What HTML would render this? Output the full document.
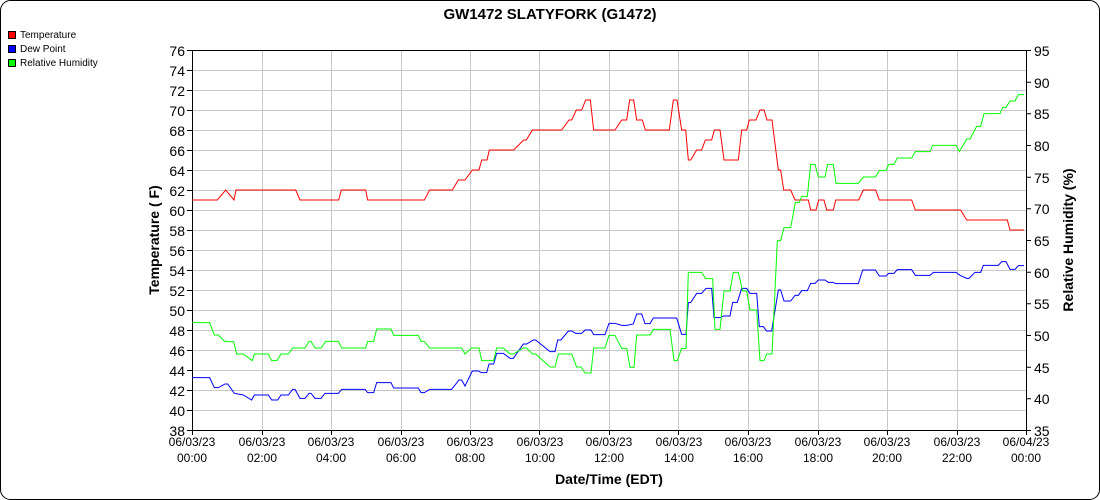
<!DOCTYPE html>
<html><head><style>
html,body{margin:0;padding:0;background:#fff;}
svg{display:block;font-family:"Liberation Sans",Arial,sans-serif;}
</style></head><body>
<svg width="1100" height="500" xmlns="http://www.w3.org/2000/svg">
<rect x="0.5" y="0.5" width="1099" height="499" rx="10" fill="#fff" stroke="#000"/>
<text x="550" y="19" text-anchor="middle" font-size="15" font-weight="bold">GW1472 SLATYFORK (G1472)</text>
<rect x="8.5" y="31.5" width="7" height="7" fill="#f00" stroke="#000"/>
<text x="20" y="38" font-size="10">Temperature</text>
<rect x="8.5" y="45.5" width="7" height="7" fill="#00f" stroke="#000"/>
<text x="20" y="52" font-size="10">Dew Point</text>
<rect x="8.5" y="59.5" width="7" height="7" fill="#0f0" stroke="#000"/>
<text x="20" y="66" font-size="10">Relative Humidity</text>
<g id="grid" stroke="#c8c8c8" stroke-width="1"></g>
<g stroke="#c8c8c8">
<path d="M192 70.5H1026M192 90.5H1026M192 110.5H1026M192 130.5H1026M192 150.5H1026M192 170.5H1026M192 190.5H1026M192 210.5H1026M192 230.5H1026M192 250.5H1026M192 270.5H1026M192 290.5H1026M192 310.5H1026M192 330.5H1026M192 350.5H1026M192 370.5H1026M192 390.5H1026M192 410.5H1026"/>
<path d="M262.5 50V430M331.5 50V430M401.5 50V430M470.5 50V430M539.5 50V430M609.5 50V430M678.5 50V430M748.5 50V430M818.5 50V430M887.5 50V430M957.5 50V430"/>
</g>
<g stroke="#000" fill="none">
<path d="M192.5 50V430.5H1026.5V50M192.5 50.5H1026.5"/>
<path d="M187 50.5h5M187 70.5h5M187 90.5h5M187 110.5h5M187 130.5h5M187 150.5h5M187 170.5h5M187 190.5h5M187 210.5h5M187 230.5h5M187 250.5h5M187 270.5h5M187 290.5h5M187 310.5h5M187 330.5h5M187 350.5h5M187 370.5h5M187 390.5h5M187 410.5h5M187 430.5h5"/>
<path d="M1026 50.5h5M1026 82.2h5M1026 113.8h5M1026 145.5h5M1026 177.2h5M1026 208.8h5M1026 240.5h5M1026 272.2h5M1026 303.8h5M1026 335.5h5M1026 367.2h5M1026 398.8h5M1026 430.5h5"/>
<path d="M192.5 430v5M262.5 430v5M331.5 430v5M401.5 430v5M470.5 430v5M539.5 430v5M609.5 430v5M678.5 430v5M748.5 430v5M818.5 430v5M887.5 430v5M957.5 430v5M1026.5 430v5"/>
</g>
<g font-size="14" text-anchor="end">
<text x="185" y="56">76</text><text x="185" y="76">74</text><text x="185" y="96">72</text><text x="185" y="116">70</text><text x="185" y="136">68</text><text x="185" y="156">66</text><text x="185" y="176">64</text><text x="185" y="196">62</text><text x="185" y="216">60</text><text x="185" y="236">58</text><text x="185" y="256">56</text><text x="185" y="276">54</text><text x="185" y="296">52</text><text x="185" y="316">50</text><text x="185" y="336">48</text><text x="185" y="356">46</text><text x="185" y="376">44</text><text x="185" y="396">42</text><text x="185" y="416">40</text><text x="185" y="436">38</text>
</g>
<g font-size="14">
<text x="1034" y="56">95</text><text x="1034" y="88">90</text><text x="1034" y="119">85</text><text x="1034" y="151">80</text><text x="1034" y="183">75</text><text x="1034" y="214">70</text><text x="1034" y="246">65</text><text x="1034" y="278">60</text><text x="1034" y="309">55</text><text x="1034" y="341">50</text><text x="1034" y="373">45</text><text x="1034" y="404">40</text><text x="1034" y="436">35</text>
</g>
<g font-size="12" text-anchor="middle">
<text x="192" y="446">06/03/23</text><text x="192" y="462">00:00</text>
<text x="262" y="446">06/03/23</text><text x="262" y="462">02:00</text>
<text x="331" y="446">06/03/23</text><text x="331" y="462">04:00</text>
<text x="401" y="446">06/03/23</text><text x="401" y="462">06:00</text>
<text x="470" y="446">06/03/23</text><text x="470" y="462">08:00</text>
<text x="540" y="446">06/03/23</text><text x="540" y="462">10:00</text>
<text x="609" y="446">06/03/23</text><text x="609" y="462">12:00</text>
<text x="679" y="446">06/03/23</text><text x="679" y="462">14:00</text>
<text x="748" y="446">06/03/23</text><text x="748" y="462">16:00</text>
<text x="818" y="446">06/03/23</text><text x="818" y="462">18:00</text>
<text x="887" y="446">06/03/23</text><text x="887" y="462">20:00</text>
<text x="957" y="446">06/03/23</text><text x="957" y="462">22:00</text>
<text x="1026" y="446">06/04/23</text><text x="1026" y="462">00:00</text>
</g>
<text x="609" y="484" text-anchor="middle" font-size="14" font-weight="bold">Date/Time (EDT)</text>
<text transform="translate(159,240) rotate(-90)" text-anchor="middle" font-size="14" font-weight="bold">Temperature ( F)</text>
<text transform="translate(1073,240) rotate(-90)" text-anchor="middle" font-size="14" font-weight="bold">Relative Humidity (%)</text>
<g fill="none" stroke-width="1">
<g transform="translate(185,40) scale(0.33333)">
<polyline vector-effect="non-scaling-stroke" stroke="#f00" points="22,480 97,480 122,450 147,480 153,450 332,450 345,480 461,480 469,450 542,450 548,480 718,480 734,450 802,450 820,420 840,420 862,390 882,390 890,360 906,360 913,330 986,330 1016,300 1024,300 1042,270 1130,270 1152,240 1160,240 1174,210 1190,210 1202,180 1216,180 1226,270 1290,270"/>
<polyline vector-effect="non-scaling-stroke" stroke="#00f" points="22,1013 74,1013 88,1043 100,1043 120,1032 128,1032 148,1060 175,1065 200,1080 208,1065 250,1065 260,1080 278,1080 288,1065 310,1065 323,1048 330,1048 345,1075 360,1075 372,1060 378,1060 390,1075 408,1075 420,1060 460,1060 470,1048 540,1048 548,1058 566,1058 575,1028 618,1028 626,1044 700,1044 708,1058 718,1058 734,1048 800,1048 822,1020 830,1020 840,1038 862,993 880,993 890,998 905,998 912,972 926,972 935,940 955,940 975,955 985,955 1015,912 1025,912 1045,900 1052,900 1095,935 1110,935 1118,900 1128,900 1150,873 1160,873 1172,880 1190,880 1200,870 1218,870 1226,884 1260,884 1272,850 1290,850"/>
<polyline vector-effect="non-scaling-stroke" stroke="#0f0" points="22,848 74,848 88,885 100,885 120,905 146,905 155,942 175,942 202,962 208,942 250,942 260,962 276,962 288,942 310,942 323,924 360,924 372,904 378,904 390,924 408,924 422,904 460,904 470,924 542,924 548,904 566,904 575,867 618,867 626,886 700,886 708,904 718,904 734,924 830,924 840,942 860,924 882,924 890,962 926,962 935,924 955,924 975,942 985,942 1015,924 1025,924 1042,942 1052,942 1095,981 1110,981 1120,942 1160,942 1175,981 1188,981 1200,999 1218,999 1226,924 1260,924 1272,886 1290,886"/>
</g>
<g transform="translate(600,40) scale(0.33333)">
<polyline vector-effect="non-scaling-stroke" stroke="#f00" points="45,270 65,240 80,240 89,180 101,180 110,240 127,240 136,270 208,270 220,180 231,180 245,270 257,270 265,360 272,360 290,330 305,330 316,300 335,300 343,270 360,270 372,360 415,360 425,270 440,270 448,240 468,240 480,210 492,210 501,240 516,240 535,390 542,390 551,450 572,450 585,480 625,480 632,510 648,510 656,480 672,480 680,510 700,510 707,480 776,480 790,450 827,450 838,480 935,480 946,510 1082,510 1100,540 1222,540 1230,570 1272,570"/>
<polyline vector-effect="non-scaling-stroke" stroke="#00f" points="45,850 65,856 80,856 100,852 110,822 125,822 135,851 150,851 160,834 230,834 245,883 258,883 265,788 272,788 290,760 305,760 318,745 335,745 342,833 360,833 370,828 390,828 398,787 412,787 425,745 440,745 450,760 470,760 478,860 490,860 500,873 515,873 535,750 542,750 552,783 572,783 585,766 595,766 605,752 622,752 632,730 645,730 655,720 675,720 685,727 700,727 706,731 775,731 788,690 826,690 838,708 858,708 866,700 882,700 892,689 935,689 946,706 990,706 1000,697 1068,697 1080,706 1100,715 1107,715 1125,697 1142,697 1150,676 1195,676 1205,665 1218,665 1230,688 1245,688 1255,677 1272,677"/>
<polyline vector-effect="non-scaling-stroke" stroke="#0f0" points="45,886 65,925 80,925 90,982 102,982 110,885 150,885 160,868 210,868 222,962 232,962 245,925 258,925 265,697 305,697 317,716 338,716 345,868 360,868 372,753 390,753 400,697 415,697 428,753 440,753 450,810 470,810 480,962 492,962 500,942 516,942 532,602 542,602 552,563 572,563 586,487 598,487 605,469 622,469 632,373 645,373 655,411 675,411 683,373 700,373 708,430 775,430 790,411 826,411 838,392 858,392 866,373 882,373 892,354 935,354 946,335 990,335 998,316 1068,316 1078,335 1100,297 1110,297 1130,259 1142,259 1152,221 1200,221 1208,202 1218,202 1230,183 1245,183 1255,164 1272,164"/>
</g>
</g>
</svg>
</body></html>
